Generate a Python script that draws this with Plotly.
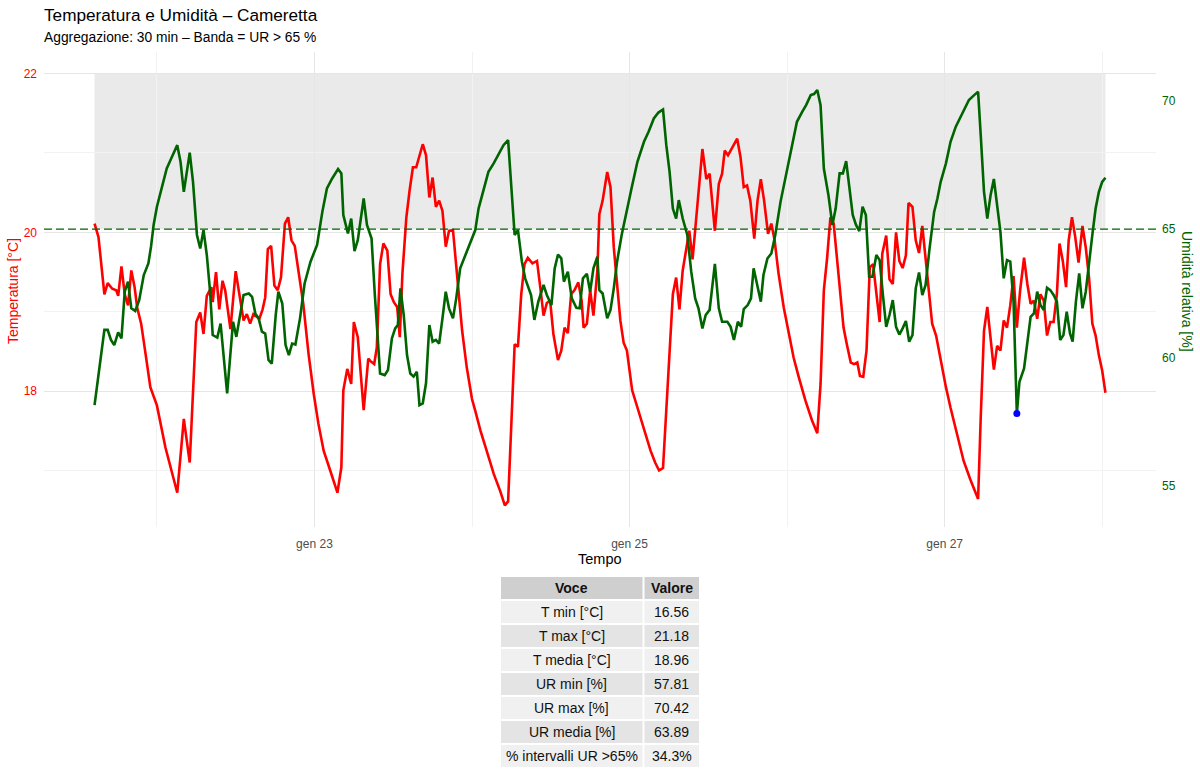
import pandas as pd
import numpy as np
import plotly.graph_objects as go

# ---------------- DATA ----------------
START = pd.Timestamp("2025-01-21 14:30")

# temperature series: hours since START, value in °C
temp_hours = [0.0, 0.6, 1.5, 2.0, 2.7, 3.3, 3.6, 4.1, 4.6, 5.1, 5.6, 6.1, 6.5, 7.1, 7.7, 8.5, 9.5, 10.8, 12.6, 13.6,
              14.5, 15.5, 16.1, 16.6, 17.1, 17.8, 18.0, 18.5, 19.0, 19.5, 19.9, 20.7, 21.5, 22.2, 22.7, 23.2, 23.7, 24.2,
              25.1, 25.6, 26.0, 26.4, 26.9, 27.4, 27.9, 28.4, 29.0, 29.5, 30.0, 30.5, 31.1, 31.8, 32.6, 33.4, 34.1, 34.9,
              35.9, 37.0, 37.6, 37.9, 38.5, 39.1, 39.5, 40.1, 41.0, 41.7, 42.0, 42.6, 43.0, 43.5, 44.0, 44.6, 45.1, 45.6,
              46.1, 46.5, 46.9, 47.5, 48.0, 48.5, 49.0, 49.5, 50.0, 50.5, 51.0, 51.5, 52.0, 52.5, 53.0, 53.5, 54.0, 54.6,
              55.2, 56.0, 56.7, 57.5, 58.0, 58.8, 59.8, 60.8, 61.8, 62.5, 63.0, 63.5, 64.0, 64.5, 65.0, 65.5, 66.0, 66.7,
              67.4, 67.9, 68.4, 68.9, 69.4, 69.9, 70.6, 71.1, 71.6, 72.1, 72.6, 73.1, 73.7, 74.2, 74.5, 75.0, 75.5, 76.0,
              76.6, 76.9, 77.4, 78.1, 78.6, 79.1, 79.6, 80.1, 80.6, 81.1, 81.9, 82.7, 83.7, 84.7, 85.4, 86.0, 86.6, 87.1,
              87.6, 88.1, 88.6, 89.1, 89.6, 90.1, 90.6, 91.1, 91.6, 92.1, 92.6, 93.2, 93.7, 94.5, 95.1, 95.6, 96.0, 96.5,
              97.2, 97.9, 98.4, 98.9, 99.4, 99.9, 100.5, 101.0, 101.5, 102.0, 102.6, 103.1, 103.6, 104.2, 105.0, 105.8,
              106.5, 107.3, 108.3, 109.3, 110.1, 110.6, 111.1, 111.6, 112.1, 112.6, 113.1, 113.6, 114.1, 114.6, 115.2,
              115.7, 116.2, 116.6, 117.1, 117.6, 118.1, 118.6, 119.1, 119.6, 120.0, 120.6, 121.1, 121.6, 122.1, 122.6,
              123.1, 123.6, 124.0, 124.6, 125.1, 125.6, 126.1, 126.6, 127.1, 127.6, 128.2, 128.9, 129.7, 130.4, 131.4,
              132.4, 133.4, 134.6, 135.0, 135.5, 136.0, 136.5, 137.0, 137.5, 138.0, 138.5, 139.0, 139.5, 140.0, 140.5,
              141.0, 141.6, 142.1, 142.6, 143.1, 143.6, 144.1, 144.6, 145.1, 145.6, 146.1, 146.6, 147.0, 147.5, 148.0,
              148.4, 148.9, 149.4, 149.9, 150.5, 151.0, 151.5, 152.0, 152.5, 153.0, 153.5, 154.0]
temp_c = [20.11, 19.94, 19.22, 19.36, 19.29, 19.27, 19.20, 19.57, 19.22, 19.08, 19.52, 19.31, 19.05, 18.85, 18.51, 18.05,
          17.82, 17.29, 16.72, 17.65, 17.10, 18.87, 18.99, 18.72, 19.20, 19.31, 19.12, 19.50, 19.03, 19.39, 19.27, 18.78,
          19.51, 19.14, 18.89, 18.97, 18.85, 18.97, 18.91, 19.03, 19.18, 19.79, 19.83, 19.33, 19.27, 19.43, 20.11, 20.19,
          19.90, 19.83, 19.52, 19.10, 18.47, 17.96, 17.59, 17.25, 17.00, 16.72, 17.04, 18.01, 18.28, 18.09, 18.87, 18.68,
          17.76, 18.41, 18.38, 18.34, 18.55, 19.60, 19.86, 19.77, 19.22, 19.12, 19.06, 18.68, 19.48, 20.19, 20.53, 20.82,
          20.82, 20.95, 21.11, 20.97, 20.44, 20.69, 20.32, 20.40, 20.27, 19.82, 20.02, 20.03, 19.48, 18.76, 18.30, 17.90,
          17.75, 17.50, 17.23, 16.96, 16.74, 16.56, 16.61, 17.54, 18.59, 18.56, 19.22, 19.60, 19.68, 19.61, 19.64, 19.31,
          18.95, 19.11, 19.14, 18.72, 18.39, 18.51, 18.80, 18.73, 19.22, 19.27, 19.37, 19.14, 18.80, 18.85, 19.27, 18.95,
          19.52, 20.23, 20.40, 20.76, 20.57, 19.81, 19.39, 18.89, 18.61, 18.51, 18.01, 17.79, 17.50, 17.25, 17.10, 17.00,
          17.03, 17.75, 18.47, 19.22, 19.43, 19.03, 19.52, 19.77, 20.02, 19.66, 20.15, 20.65, 21.05, 20.67, 20.74, 20.02,
          20.61, 20.74, 21.03, 20.97, 21.07, 21.18, 20.95, 20.57, 20.59, 20.40, 19.92, 20.40, 20.67, 20.40, 19.98, 20.11,
          19.90, 19.48, 19.05, 18.72, 18.42, 18.17, 17.88, 17.63, 17.47, 18.09, 19.27, 19.68, 20.19, 20.11, 19.64, 19.22,
          18.80, 18.59, 18.36, 18.34, 18.36, 18.19, 18.18, 18.51, 19.56, 19.60, 19.27, 18.87, 19.73, 19.96, 19.41, 19.35,
          20.00, 19.64, 19.55, 19.71, 20.37, 20.32, 19.90, 19.74, 20.08, 19.68, 19.31, 18.85, 18.70, 18.38, 18.05, 17.79,
          17.46, 17.12, 16.89, 16.64, 17.67, 18.76, 19.06, 18.66, 18.27, 18.57, 18.51, 18.89, 18.80, 19.08, 19.45, 18.80,
          19.27, 19.68, 19.35, 19.10, 19.14, 18.91, 19.22, 19.14, 18.70, 18.87, 18.87, 19.22, 19.86, 19.64, 19.31, 19.90,
          20.19, 19.94, 19.62, 20.08, 19.81, 19.43, 18.85, 18.70, 18.45, 18.26, 17.98]

# relative humidity series: hours since START, value in %
rh_hours = [0.0, 0.9, 1.5, 2.0, 2.5, 3.0, 3.6, 4.1, 4.6, 5.1, 5.6, 6.2, 6.8, 7.5, 8.2, 8.6, 9.0, 9.5, 10.2, 11.0, 11.9,
            12.6, 13.1, 13.6, 14.5, 15.0, 15.6, 16.1, 16.6, 17.1, 17.6, 18.0, 18.7, 19.2, 20.2, 21.1, 21.6, 22.2, 22.7,
            23.5, 24.0, 24.5, 25.0, 25.5, 26.0, 26.5, 27.0, 27.6, 28.0, 28.6, 29.1, 29.6, 30.1, 30.6, 31.3, 32.0, 32.9,
            33.9, 34.7, 35.4, 36.2, 37.1, 37.6, 37.9, 38.6, 39.1, 39.6, 40.1, 41.0, 41.5, 42.2, 42.7, 43.5, 44.2, 44.7,
            45.3, 45.8, 46.2, 46.6, 47.1, 47.6, 48.1, 48.6, 49.1, 49.5, 50.0, 50.5, 51.0, 51.5, 52.0, 52.5, 53.0, 53.5,
            54.0, 54.6, 55.1, 55.7, 56.5, 57.3, 58.0, 58.5, 59.3, 60.0, 60.8, 61.6, 62.3, 63.0, 63.5, 64.0, 64.5, 65.1,
            65.6, 66.2, 66.5, 67.0, 67.6, 68.4, 68.9, 69.6, 70.1, 70.6, 71.1, 71.5, 72.1, 72.7, 73.4, 73.9, 74.4, 75.0,
            75.5, 76.0, 76.6, 76.9, 77.4, 78.1, 78.6, 79.1, 79.6, 80.3, 81.0, 81.8, 82.7, 83.7, 84.4, 85.2, 85.9, 86.6,
            87.1, 87.6, 88.1, 88.6, 89.0, 89.6, 90.3, 90.9, 91.5, 92.0, 92.6, 93.1, 93.7, 94.5, 95.1, 95.6, 96.4, 96.9,
            97.4, 98.0, 98.5, 98.9, 99.5, 100.0, 100.4, 101.0, 101.5, 101.9, 102.5, 103.1, 103.7, 104.5, 105.2, 106.0,
            106.5, 107.0, 107.8, 108.4, 109.1, 109.6, 110.1, 110.6, 111.1, 111.8, 112.4, 112.9, 113.5, 114.0, 114.5,
            115.0, 115.5, 116.0, 116.5, 117.0, 117.5, 118.0, 118.5, 119.1, 119.6, 120.1, 120.6, 121.1, 121.6, 122.1,
            122.6, 123.1, 123.6, 124.1, 124.6, 125.1, 125.6, 126.1, 126.6, 127.2, 127.9, 128.4, 128.9, 129.7, 130.4,
            131.2, 132.2, 133.2, 134.0, 134.6, 135.0, 135.5, 136.0, 136.5, 137.0, 137.5, 138.0, 138.5, 139.0, 139.5,
            140.0, 140.5, 140.9, 141.6, 142.1, 142.6, 143.1, 143.6, 144.1, 144.6, 145.1, 145.6, 146.1, 146.6, 147.1,
            147.6, 148.1, 148.6, 149.0, 149.5, 150.0, 150.5, 151.0, 151.5, 152.0, 152.5, 153.0, 153.5, 154.0]
rh_pct = [58.14, 59.83, 61.07, 61.07, 60.68, 60.48, 60.97, 60.74, 62.56, 62.95, 61.91, 61.81, 62.23, 63.21, 63.66, 64.31,
          65.16, 65.87, 66.52, 67.36, 67.88, 68.27, 67.62, 66.45, 67.98, 66.84, 64.77, 64.24, 64.96, 63.99, 62.56, 60.87,
          60.77, 61.32, 58.60, 61.39, 60.80, 61.65, 62.43, 62.49, 62.36, 61.70, 61.52, 61.00, 60.93, 59.90, 59.76, 61.65,
          62.56, 62.10, 60.48, 60.09, 60.54, 60.50, 61.52, 62.88, 63.73, 64.38, 65.67, 66.58, 66.97, 67.34, 67.17, 65.55,
          64.83, 65.41, 64.14, 64.57, 66.19, 65.16, 64.63, 62.43, 59.37, 59.31, 59.51, 60.74, 61.13, 61.26, 62.69, 61.65,
          60.09, 59.37, 59.25, 59.44, 58.14, 58.21, 59.00, 61.26, 60.61, 60.68, 60.54, 61.52, 62.56, 61.91, 61.52, 62.30,
          63.47, 63.99, 64.51, 64.96, 65.80, 66.58, 67.23, 67.56, 67.95, 68.27, 68.47, 66.58, 64.77, 64.96, 63.73, 63.08,
          62.69, 62.43, 61.46, 62.17, 62.82, 62.43, 62.04, 63.47, 64.01, 63.86, 62.95, 63.34, 62.30, 61.93, 61.91, 63.08,
          63.26, 62.56, 63.47, 63.92, 62.62, 62.49, 61.52, 61.85, 62.69, 63.73, 64.77, 65.67, 66.58, 67.62, 68.40, 68.79,
          69.31, 69.54, 69.66, 68.27, 67.23, 65.80, 65.41, 66.13, 65.41, 64.77, 63.34, 62.30, 61.91, 61.13, 61.65, 61.85,
          63.64, 61.91, 61.39, 61.39, 61.19, 60.68, 61.39, 61.19, 61.88, 62.04, 62.30, 63.47, 62.82, 62.17, 63.21, 63.85,
          64.05, 64.77, 66.06, 66.97, 67.88, 68.66, 69.18, 69.57, 69.83, 70.22, 70.26, 70.42, 69.83, 67.36, 66.32, 65.16,
          65.80, 67.17, 67.17, 67.65, 66.58, 65.55, 65.16, 64.92, 65.87, 65.55, 63.14, 63.14, 63.99, 63.79, 62.43, 61.19,
          61.65, 62.23, 61.19, 60.89, 61.13, 61.42, 60.61, 60.87, 62.69, 63.31, 62.43, 62.82, 64.24, 65.67, 66.19, 66.84,
          67.56, 68.40, 68.99, 69.50, 70.03, 70.22, 70.35, 68.66, 66.45, 65.41, 66.32, 66.95, 65.93, 64.89, 63.08, 63.79,
          63.73, 62.17, 57.81, 59.05, 59.57, 60.61, 61.58, 61.71, 62.56, 62.04, 61.85, 62.71, 62.62, 62.43, 62.17, 60.68,
          60.87, 61.78, 60.93, 60.61, 62.17, 63.27, 61.91, 62.56, 63.73, 64.77, 65.80, 66.45, 66.84, 67.00]

table_header = ["Voce", "Valore"]
table_voce = ["T min [°C]", "T max [°C]", "T media [°C]", "UR min [%]", "UR max [%]", "UR media [%]",
              "% intervalli UR >65%"]
table_valore = ["16.56", "21.18", "18.96", "57.81", "70.42", "63.89", "34.3%"]

x_tickvals = ["2025-01-23", "2025-01-25", "2025-01-27"]
x_ticktext = ["gen 23", "gen 25", "gen 27"]
x_minor_vals = ["2025-01-22", "2025-01-24", "2025-01-26", "2025-01-28"]
y_tickvals = [18, 20, 22]
y_minor_vals = [17, 19, 21]
y2_tickvals = [55, 60, 65, 70]
RH_THRESHOLD = 65
BAND_TOP_T = 22

# ---------------- FIGURE ----------------
W, H = 1200, 771
FONT = "Liberation Sans, Arial, sans-serif"
RED = "#FF0000"
GREEN = "#006400"

t_time = START + pd.to_timedelta(temp_hours, unit="h")
h_time = START + pd.to_timedelta(rh_hours, unit="h")

tmin, tmax = min(t_time.min(), h_time.min()), max(t_time.max(), h_time.max())
span = tmax - tmin
x_range = [tmin - 0.05 * span, tmax + 0.05 * span]

Y1 = [16.288, 22.272]
Y2 = [53.39, 71.90]

# plot panel in pixels
PL, PR, PT, PB = 44, 1156, 52, 527


def fx(px):
    return px / W


def fy(py):
    return 1 - py / H


def y2_to_y1(v):
    return Y1[0] + (v - Y2[0]) / (Y2[1] - Y2[0]) * (Y1[1] - Y1[0])


fig = go.Figure()

fig.add_trace(go.Scatter(x=t_time, y=temp_c, mode="lines", line=dict(color=RED, width=2.6),
                         yaxis="y", showlegend=False, hoverinfo="skip"))
fig.add_trace(go.Scatter(x=h_time, y=rh_pct, mode="lines", line=dict(color=GREEN, width=2.6),
                         yaxis="y2", showlegend=False, hoverinfo="skip"))
imin = int(np.argmin(rh_pct))
fig.add_trace(go.Scatter(x=[h_time[imin]], y=[rh_pct[imin]], mode="markers",
                         marker=dict(color="#0000FF", size=7), yaxis="y2", showlegend=False, hoverinfo="skip"))

shapes = []
annotations = []

# band UR > 65 %
shapes.append(dict(type="rect", xref="x", yref="y", x0=tmin, x1=tmax,
                   y0=y2_to_y1(RH_THRESHOLD), y1=BAND_TOP_T,
                   fillcolor="#EAEAEA", line=dict(width=0), layer="below"))
# threshold line
shapes.append(dict(type="line", xref="paper", yref="y2", x0=fx(PL), x1=fx(PR), y0=RH_THRESHOLD, y1=RH_THRESHOLD,
                   line=dict(color=GREEN, width=1.3, dash="8px,4px"), layer="above"))

# ---- summary table drawn with shapes + text ----
TX0, TXM, TX1 = 501, 643.5, 699   # column edges
TY0, ROWH = 576, 24
GAP = 1
cols = [(TX0, TXM - GAP), (TXM + GAP, TX1)]
rows = [table_header] + [[a, b] for a, b in zip(table_voce, table_valore)]
for r, row in enumerate(rows):
    y0 = TY0 + r * ROWH
    if r == 0:
        fill = "#CFCFCF"
    else:
        fill = "#F0F0F0" if r % 2 == 1 else "#E4E4E4"
    for c, (cx0, cx1) in enumerate(cols):
        shapes.append(dict(type="rect", xref="paper", yref="paper",
                           x0=fx(cx0), x1=fx(cx1), y0=fy(y0 + ROWH - GAP), y1=fy(y0 + GAP),
                           fillcolor=fill, line=dict(width=0), layer="above"))
        txt = f"<b>{row[c]}</b>" if r == 0 else row[c]
        annotations.append(dict(text=txt, x=fx((cx0 + cx1) / 2), y=fy(y0 + ROWH / 2), xref="paper", yref="paper",
                                xanchor="center", yanchor="middle", showarrow=False,
                                font=dict(size=14, color="#111111")))

annotations += [
    dict(text="Temperatura e Umidità – Cameretta", x=fx(41.5), y=fy(15), xref="paper", yref="paper",
         xanchor="left", yanchor="middle", showarrow=False, font=dict(size=17.2, color="black")),
    dict(text="Aggregazione: 30 min – Banda = UR > 65 %", x=fx(41.5), y=fy(37), xref="paper", yref="paper",
         xanchor="left", yanchor="middle", showarrow=False, font=dict(size=13.8, color="black")),
    dict(text="Temperatura [°C]", x=fx(13), y=fy(291), xref="paper", yref="paper", textangle=-90,
         xanchor="center", yanchor="middle", showarrow=False, font=dict(size=14, color=RED)),
    dict(text="Umidità relativa [%]", x=fx(1187), y=fy(291), xref="paper", yref="paper", textangle=90,
         xanchor="center", yanchor="middle", showarrow=False, font=dict(size=14, color=GREEN)),
    dict(text="Tempo", x=fx(600), y=fy(559), xref="paper", yref="paper",
         xanchor="center", yanchor="middle", showarrow=False, font=dict(size=14.5, color="black")),
]

grid_major = "#E6E6E6"
grid_minor = "#F2F2F2"

fig.update_layout(
    width=W, height=H,
    margin=dict(l=0, r=0, t=0, b=0, pad=0),
    paper_bgcolor="white", plot_bgcolor="white",
    font=dict(family=FONT, size=12, color="black"),
    showlegend=False,
    xaxis=dict(type="date", domain=[fx(PL), fx(PR)], range=x_range, tickmode="array",
               tickvals=x_tickvals, ticktext=x_ticktext, tickfont=dict(size=12, color="#4D4D4D"),
               showgrid=True, gridcolor=grid_major, gridwidth=1, zeroline=False, showline=False,
               ticks="", automargin=False, ticklabelstandoff=8,
               minor=dict(tickvals=x_minor_vals, showgrid=True, gridcolor=grid_minor, gridwidth=1, ticks="")),
    yaxis=dict(domain=[fy(PB), fy(PT)], range=Y1, tickmode="array", tickvals=y_tickvals,
               tickfont=dict(size=12, color=RED), showgrid=True, gridcolor=grid_major, gridwidth=1,
               zeroline=False, showline=False, ticks="", automargin=False, ticklabelstandoff=6,
               minor=dict(tickvals=y_minor_vals, showgrid=True, gridcolor=grid_minor, gridwidth=1, ticks="")),
    yaxis2=dict(overlaying="y", side="right", range=Y2, tickmode="array", tickvals=y2_tickvals,
                tickfont=dict(size=12, color=GREEN), showgrid=False, zeroline=False, showline=False,
                ticks="", automargin=False, ticklabelstandoff=5),
    shapes=shapes,
    annotations=annotations,
)

fig.write_html("out.html")
